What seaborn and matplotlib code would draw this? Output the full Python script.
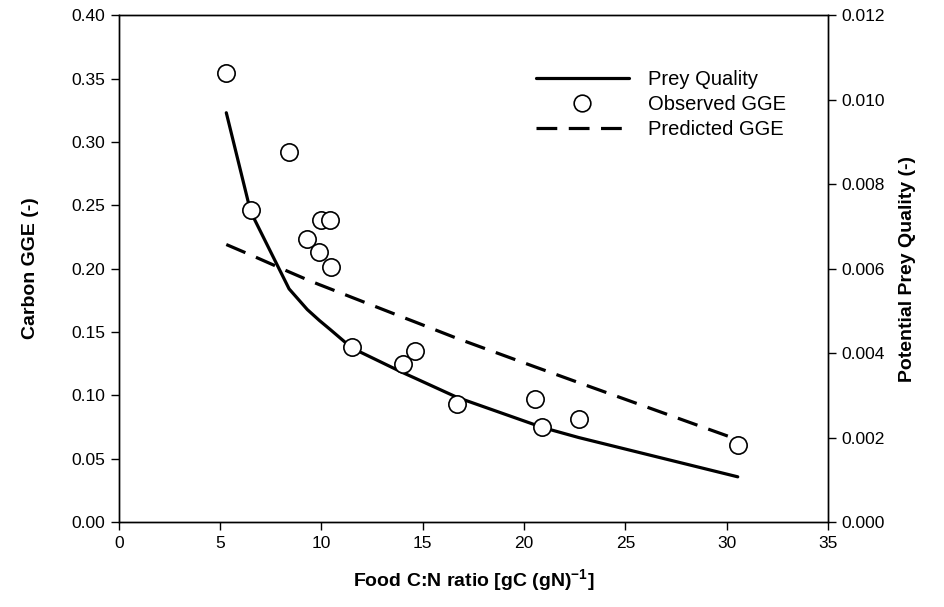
import matplotlib
matplotlib.use("Agg")
import matplotlib.pyplot as plt
from matplotlib.lines import Line2D
import seaborn as sns
import pandas as pd

# Food C:N ratio of each observation, and the measured carbon gross growth efficiency
cn_observed = [5.3, 6.5, 8.4, 9.3, 9.9, 10.0, 10.4, 10.45, 11.5, 14.0, 14.6, 16.7, 20.55, 20.9, 22.7, 30.55]
gge_observed = [0.354, 0.246, 0.292, 0.223, 0.213, 0.238, 0.238, 0.201, 0.138, 0.125, 0.135, 0.093,
                0.097, 0.075, 0.081, 0.061]

# Model curves evaluated at the same C:N ratios
cn_model = [5.3, 6.5, 8.4, 9.3, 9.9, 10.0, 10.4, 10.45, 11.5, 14.0, 14.6, 16.7, 20.55, 20.9, 22.7, 30.55]
gge_predicted = [0.219, 0.2108, 0.1974, 0.1912, 0.1873, 0.1867, 0.1842, 0.1839, 0.1773, 0.1617, 0.1580,
                 0.1449, 0.1224, 0.1204, 0.1100, 0.0650]
prey_quality = [0.00969, 0.00735, 0.00552, 0.00503, 0.00477, 0.00473, 0.00457, 0.00455, 0.00412, 0.00354,
                0.00341, 0.00295, 0.00230, 0.00224, 0.00200, 0.00107]

obs = pd.DataFrame({"cn": cn_observed, "gge": gge_observed})
model = pd.DataFrame({"cn": cn_model, "gge": gge_predicted, "quality": prey_quality})

sns.set_theme(style="ticks")
plt.rcParams["font.family"] = ["Liberation Sans", "DejaVu Sans"]
plt.rcParams["mathtext.fontset"] = "custom"
plt.rcParams["mathtext.rm"] = "Liberation Sans"
plt.rcParams["mathtext.bf"] = "Liberation Sans:bold"
for key in ("text.color", "axes.labelcolor", "xtick.color", "ytick.color", "axes.edgecolor"):
    plt.rcParams[key] = "black"

fig = plt.figure(figsize=(9.44, 6.07), dpi=100)
ax = fig.add_axes([0.126, 0.140, 0.751, 0.835])
ax2 = ax.twinx()
# keep the GGE axis (circles and dashed line) drawn above the prey quality line
ax.set_zorder(ax2.get_zorder() + 1)
ax.patch.set_visible(False)

line_w = 2.3
sns.lineplot(data=model, x="cn", y="quality", ax=ax2, color="black", linewidth=line_w,
             sort=False, estimator=None, legend=False)
sns.lineplot(data=model, x="cn", y="gge", ax=ax, color="black", linewidth=line_w,
             sort=False, estimator=None, legend=False, dashes=False)
ax.lines[-1].set_dashes((6.5, 3.6))
sns.scatterplot(data=obs, x="cn", y="gge", ax=ax, s=155, marker="o", facecolor="white",
                edgecolor="black", linewidth=1.2, zorder=5, legend=False)

ax.set_xlim(0, 35)
ax.set_ylim(0, 0.40)
ax2.set_ylim(0, 0.012)
ax.set_xticks(range(0, 36, 5))
ax.set_yticks([0.0, 0.05, 0.10, 0.15, 0.20, 0.25, 0.30, 0.35, 0.40])
ax.set_yticklabels([f"{v:.2f}" for v in ax.get_yticks()])
ax2.set_yticks([0.0, 0.002, 0.004, 0.006, 0.008, 0.010, 0.012])
ax2.set_yticklabels([f"{v:.3f}" for v in ax2.get_yticks()])

for a in (ax, ax2):
    for sp in a.spines.values():
        sp.set_visible(True)
        sp.set_color("black")
        sp.set_linewidth(1.0)
    a.tick_params(direction="out", length=6, width=1.0, colors="black", labelcolor="black",
                  labelsize=12.5, pad=4)

ax.set_xlabel(r"Food C:N ratio [gC (gN)$^{\mathbf{-1}}$]", fontsize=14, fontweight="bold", labelpad=12)
ax.set_ylabel("Carbon GGE (-)", fontsize=14, fontweight="bold")
ax.yaxis.set_label_coords(-0.113, 0.5)
ax2.set_ylabel("Potential Prey Quality (-)", fontsize=14, fontweight="bold",
               rotation=90, va="bottom")
ax2.yaxis.set_label_coords(1.124, 0.5)

handles = [
    Line2D([], [], color="black", linewidth=line_w),
    Line2D([], [], linestyle="none", marker="o", markersize=12, markerfacecolor="white",
           markeredgecolor="black", markeredgewidth=1.2),
    Line2D([], [], color="black", linewidth=line_w, dashes=(6.5, 3.6)),
]
labels = ["Prey Quality", "Observed GGE", "Predicted GGE"]
ax.legend(handles, labels, loc="upper left", bbox_to_anchor=(0.577, 0.908), frameon=False,
          fontsize=14.5, handlelength=4.6, handletextpad=0.95, labelspacing=0.3,
          borderaxespad=0)

fig.savefig("out.png", dpi=100)
